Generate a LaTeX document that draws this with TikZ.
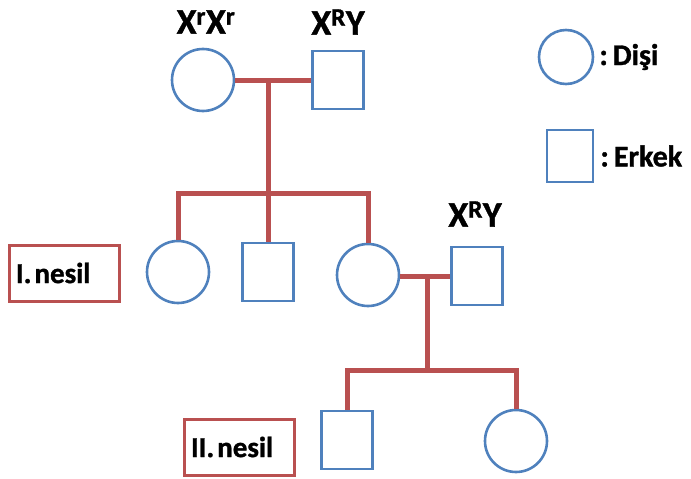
\documentclass[tikz,border=0pt]{standalone}
\usepackage{fontspec}
\setmainfont[BoldFeatures={FakeBold=1.2}]{Carlito}
\usetikzlibrary{positioning}
\definecolor{kanblue}{RGB}{79,129,189}
\definecolor{kanred}{RGB}{185,80,80}

\begin{document}
\begin{tikzpicture}[x=1pt,y=-1pt]
    \useasboundingbox (0,0) rectangle (691,479);
    \begin{scope}[
        disi/.style={circle, draw=kanblue, line width=2.6pt, minimum size=62pt, inner sep=0pt},
        erkek/.style={rectangle, draw=kanblue, line width=2.6pt, minimum width=51pt, minimum height=58pt, inner sep=0pt},
        hat/.style={draw=kanred, line width=5pt},
        genotip/.style={font=\bfseries\fontsize{36}{38}\selectfont},
        nesil/.style={rectangle, draw=kanred, line width=3pt, text width=96pt, align=left, inner xsep=7pt, minimum height=56pt, font=\bfseries\fontsize{29}{31}\selectfont},
        lejant/.style={anchor=west, inner sep=0pt, font=\bfseries\fontsize{30}{32}\selectfont}]
    % parents
    \node [disi] (anne) at (203,80) {};
    \node [erkek] (baba) at (338,80) {};
    \node [genotip] (ganne) at (206,22) {X\textsuperscript{r}X\textsuperscript{r}};
    \node [genotip] (gbaba) at (338,22) {X\textsuperscript{R}Y};
    % I. generation
    \node [disi] (c1) at (178,272) {};
    \node [erkek] (c2) at (268,272) {};
    \node [disi] (c3) at (368,275) {};
    \node [erkek] (es) at (477,276) {};
    \node [genotip] (ges) at (475,214) {X\textsuperscript{R}Y};
    \node [nesil] (nesil1) at (64,273) {I.\hspace{3pt}nesil};
    % II. generation
    \node [erkek] (g1) at (347,440) {};
    \node [disi] (g2) at (516,441) {};
    \node [nesil] (nesil2) at (239,447) {II.\hspace{3pt}nesil};
    % legend
    \node [disi, minimum size=54pt] (ldisi) at (566,57) {};
    \node [lejant] (tdisi) [right=5pt of ldisi] {:\,Dişi};
    \node [erkek, minimum width=46pt, minimum height=52pt] (lerkek) at (570,156) {};
    \node [lejant] (terkek) [right=6pt of lerkek] {:\,Erkek};
    % lines
    \coordinate (e1) at (268,80);
    \coordinate (k1) at (268,193);
    \draw [hat] (anne) -- (baba);
    \draw [hat] (e1) -- (k1);
    \draw [hat] (c1.north) -- (c1.north |- k1) -- (c3.north |- k1) -- (c3.north);
    \draw [hat] (k1) -- (c2.north);
    \coordinate (e2) at (427,276);
    \coordinate (k2) at (427,370);
    \draw [hat] (c3.east |- e2) -- (es.west |- e2);
    \draw [hat] (e2) -- (k2);
    \draw [hat] (g1.north) -- (g1.north |- k2) -- (g2.north |- k2) -- (g2.north);
    \end{scope}
\end{tikzpicture}
\end{document}
